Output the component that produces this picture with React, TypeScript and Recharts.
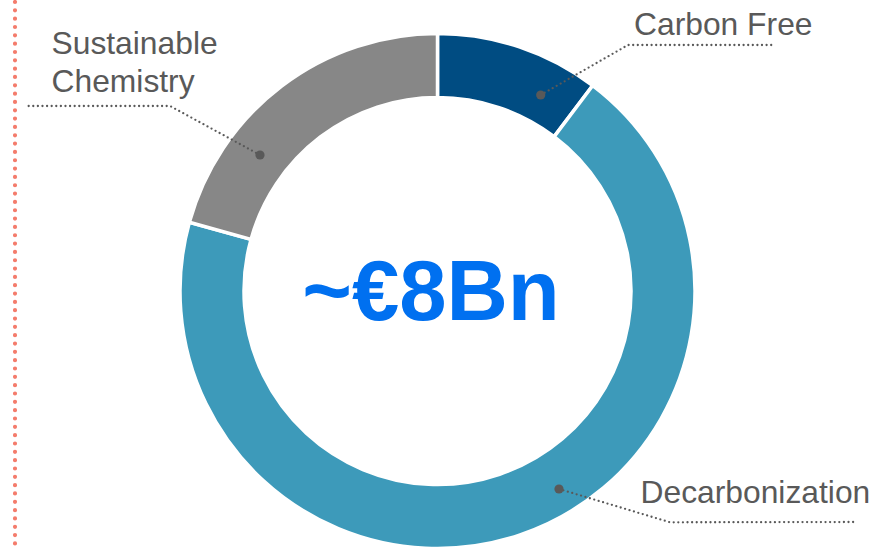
import React from 'react';
import { PieChart, Pie, Cell, Customized } from 'recharts';

const categories = ['Carbon Free', 'Decarbonization', 'Sustainable Chemistry'];
const shares = [10.3, 69.0, 20.7];
const labelLines = [['Carbon Free'], ['Decarbonization'], ['Sustainable', 'Chemistry']];
const centerLabel = '~€8Bn';

const colors = ['#004c82', '#3d9aba', '#878787'];

// label layout offsets relative to pie center (dot, elbow, end, text anchor)
const labelLayout = [
  { dot: [103.2, -196], elbow: [190.5, -246], end: [336.5, -246], text: [196.5, -256.5] },
  { dot: [121.5, 198], elbow: [232.5, 231.3], end: [417.5, 231], text: [203, 212.3] },
  { dot: [-177.5, -136], elbow: [-267.5, -185], end: [-411.5, -185], text: [-386, -236.7] },
];

const data = categories.map((name, i) => ({ name, value: shares[i] }));

const CX = 437.5;
const CY = 291;
const FONT = '"Liberation Sans", Arial, Helvetica, sans-serif';

const renderLabel = (props: any) => {
  const { index } = props;
  const cx = CX;
  const cy = CY;
  const l = labelLayout[index];
  const pts = [l.dot, l.elbow, l.end].map((p) => `${cx + p[0]},${cy + p[1]}`).join(' ');
  const lines = labelLines[index];
  return (
    <g key={`lbl-${index}`}>
      <polyline
        points={pts}
        fill="none"
        stroke="#595959"
        strokeWidth={2.3}
        strokeDasharray="0 4.6"
        strokeLinecap="round"
      />
      <circle cx={cx + l.dot[0]} cy={cy + l.dot[1]} r={4.6} fill="#595959" />
      <text
        x={cx + l.text[0]}
        y={cy + l.text[1]}
        fill="#595959"
        fontSize={31.8}
        fontFamily={FONT}
        textAnchor="start"
      >
        {lines.map((t, j) => (
          <tspan key={j} x={cx + l.text[0]} dy={j === 0 ? 0 : 37.4}>
            {t}
          </tspan>
        ))}
      </text>
    </g>
  );
};

const Decorations = () => (
  <g>
    <line
      x1={15}
      y1={2}
      x2={15}
      y2={549}
      stroke="#f47c6c"
      strokeWidth={4.2}
      strokeDasharray="0 8.33"
      strokeLinecap="round"
    />
    <text
      x={431}
      y={320}
      textAnchor="middle"
      fill="#0070f0"
      fontSize={85}
      fontWeight="bold"
      fontFamily={FONT}
    >
      {centerLabel}
    </text>
  </g>
);

export default function App() {
  return (
    <div style={{ position: 'absolute', left: 0, top: 0, width: 884, height: 549, background: '#fff' }}>
      <PieChart width={884} height={549} margin={{ top: 0, right: 0, bottom: 0, left: 0 }}>
        <Customized component={Decorations} />
        <Pie
          data={data}
          dataKey="value"
          nameKey="name"
          cx={CX}
          cy={CY}
          innerRadius={193.5}
          outerRadius={257.5}
          startAngle={90}
          endAngle={-270}
          stroke="#ffffff"
          strokeWidth={3.5}
          label={renderLabel}
          labelLine={false}
          isAnimationActive={false}
        >
          {data.map((d, i) => (
            <Cell key={d.name} fill={colors[i]} />
          ))}
        </Pie>
      </PieChart>
    </div>
  );
}
